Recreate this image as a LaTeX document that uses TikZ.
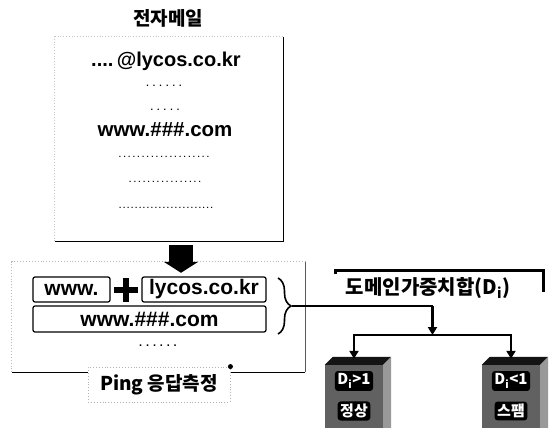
\documentclass[tikz,border=0pt]{standalone}
\usepackage{fontspec}
\setmainfont{Liberation Sans}
\newfontfamily\kr{Noto Sans CJK KR}
\usetikzlibrary{arrows.meta,decorations.pathreplacing,calc}
\begin{document}
\begin{tikzpicture}[x=1pt,y=-1pt,
  lat/.style={font=\fontsize{20}{20}\selectfont\bfseries},
  latb/.style={font=\fontsize{21}{21}\selectfont\bfseries},
  krt/.style={font=\kr\fontsize{18}{18}\selectfont\bfseries},
  tbox/.style={draw, line width=1.2pt, rounded corners=2pt, inner sep=0pt},
  dotrow/.style={font=\fontsize{9}{9}\selectfont\bfseries\addfontfeature{LetterSpace=45}, inner sep=0pt},
  conn/.style={line width=2.4pt},
  arr/.style={conn, -{Triangle[width=9pt,length=8pt]}},
  cube/.style={fill=black!62, minimum width=58, minimum height=76, inner sep=0pt},
  cubetxt/.style={font=\kr\fontsize{15}{15}\selectfont\bfseries, text=white, fill=black, rounded corners=3pt, inner sep=2.5pt}
]
\clip (0,0) rectangle (555,428);
\fill[white] (0,0) rectangle (555,428);

% title
\node[font=\kr\fontsize{19}{19}\selectfont\bfseries] (title) at (168,18) {전자메일};

% email box
\node[minimum width=228, minimum height=204, inner sep=0pt] (mail) at (169,139) {};
\draw[gray!45, dotted, line width=0.8pt] (mail.south west) -- (mail.north west) -- (mail.north east);
\draw[line width=1.3pt] (mail.north east) -- (mail.south east) -- (mail.south west);

\node[lat] (addr) at (166,61) {....\,@lycos.co.kr};
\node[dotrow] (d1) at (164,86) {......};
\node[dotrow] (d2) at (165,110) {.....};
\node[lat, font=\fontsize{20.5}{20.5}\selectfont\bfseries] (www1) at (165,130) {www.\#\#\#.com};
\node[dotrow, font=\fontsize{8}{8}\selectfont\bfseries\addfontfeature{LetterSpace=30}] (d3) at (164,157) {....................};
\node[dotrow, font=\fontsize{8}{8}\selectfont\bfseries\addfontfeature{LetterSpace=30}] (d4) at (165,182) {................};
\node[dotrow, font=\fontsize{8}{8}\selectfont\bfseries\addfontfeature{LetterSpace=22}] (d5) at (166,208) {........................};

% lower box
\node[minimum width=293, minimum height=110, inner sep=0pt] (lower) at (158.5,317) {};
\draw[gray!55, dotted, line width=0.9pt] (lower.south west) -- (lower.north west) -- (lower.north east);
\draw[gray!70!black, line width=1pt] (lower.north east) -- (lower.south east);
\draw[line width=1.3pt] (lower.south east) -- (lower.south west);

% big arrow
\draw[line width=24pt, -{Triangle[width=34pt,length=11pt]}] ($(mail.south)+(12,4)$) -- ($(lower.north)+(22.5,11)$);

% boxes in lower box
\node[tbox, minimum width=77, minimum height=25, latb] (wwwb) at (71.5,289.5) {www.};
\node[minimum size=24, inner sep=0pt] (plus) at (126,290) {};
\draw[line width=6pt] (plus.west) -- (plus.east);
\draw[line width=6pt] (plus.north) -- (plus.south);
\node[tbox, minimum width=124, minimum height=25, latb] (lyc) at (204,289.5) {lycos.co.kr};
\node[tbox, minimum width=233, minimum height=26, latb] (www2) at (149.5,319) {www.\#\#\#.com};
\node[dotrow, font=\fontsize{11}{11}\selectfont\bfseries\addfontfeature{LetterSpace=35}] (d6) at (158,346) {......};

% brace
\coordinate (bt) at (278,278);
\coordinate (bb) at (278,334);
\draw[line width=1.6pt, decorate, decoration={brace, amplitude=13pt}] (bt) -- (bb);
\coordinate (btip) at (292,306);

% ping label
\node[draw=gray!60, dotted, line width=0.9pt, fill=white, minimum width=142, minimum height=35, inner sep=0pt,
      font=\kr\fontsize{19}{19}\selectfont\bfseries] (ping) at (159,384.5) {Ping 응답측정};
\fill (ping.north east) circle (2.5pt);

% header
\draw[line width=3pt] (335,274) -- (335,270) -- (543,270) -- (543,292);
\node[font=\kr\fontsize{20}{20}\selectfont\bfseries, inner sep=0pt] (dw) at (428,288) {도메인가중치합(D\textsubscript{i})};

% cubes
\node[cube] (c1) at (354,403) {};
\node[cube] (c2) at (511,403) {};
\foreach \c in {c1,c2}{
  \fill[black!92] (\c.north west) -- ++(8,-8) -- ($(\c.north east)+(8,-8)$) -- (\c.north east) -- cycle;
  \fill[black!40] (\c.north east) -- ++(8,-8) -- ++(0,80) -- (\c.south east) -- cycle;
}
\node[cubetxt] (t1a) at (354,381) {D\textsubscript{i}>1};
\node[cubetxt] (t1b) at (354,411) {정상};
\node[cubetxt] (t2a) at (511,381) {D\textsubscript{i}<1};
\node[cubetxt] (t2b) at (511,411) {스팸};

% connectors
\coordinate (jm) at (432.5,335);
\coordinate (jl) at (354,335);
\coordinate (jr) at (511,335);
\coordinate (c1t) at ($(c1.north)+(3,-6)$);
\coordinate (c2t) at ($(c2.north)+(3,-6)$);
\draw[conn] (btip) -- (432.5,306) coordinate (jt);
\draw[arr] (jt) -- (jm);
\draw[conn, line cap=rect] (jl) -- (jr);
\draw[arr] (jl) -- (jl |- c1t);
\draw[arr] (jr) -- (jr |- c2t);
\end{tikzpicture}
\end{document}
